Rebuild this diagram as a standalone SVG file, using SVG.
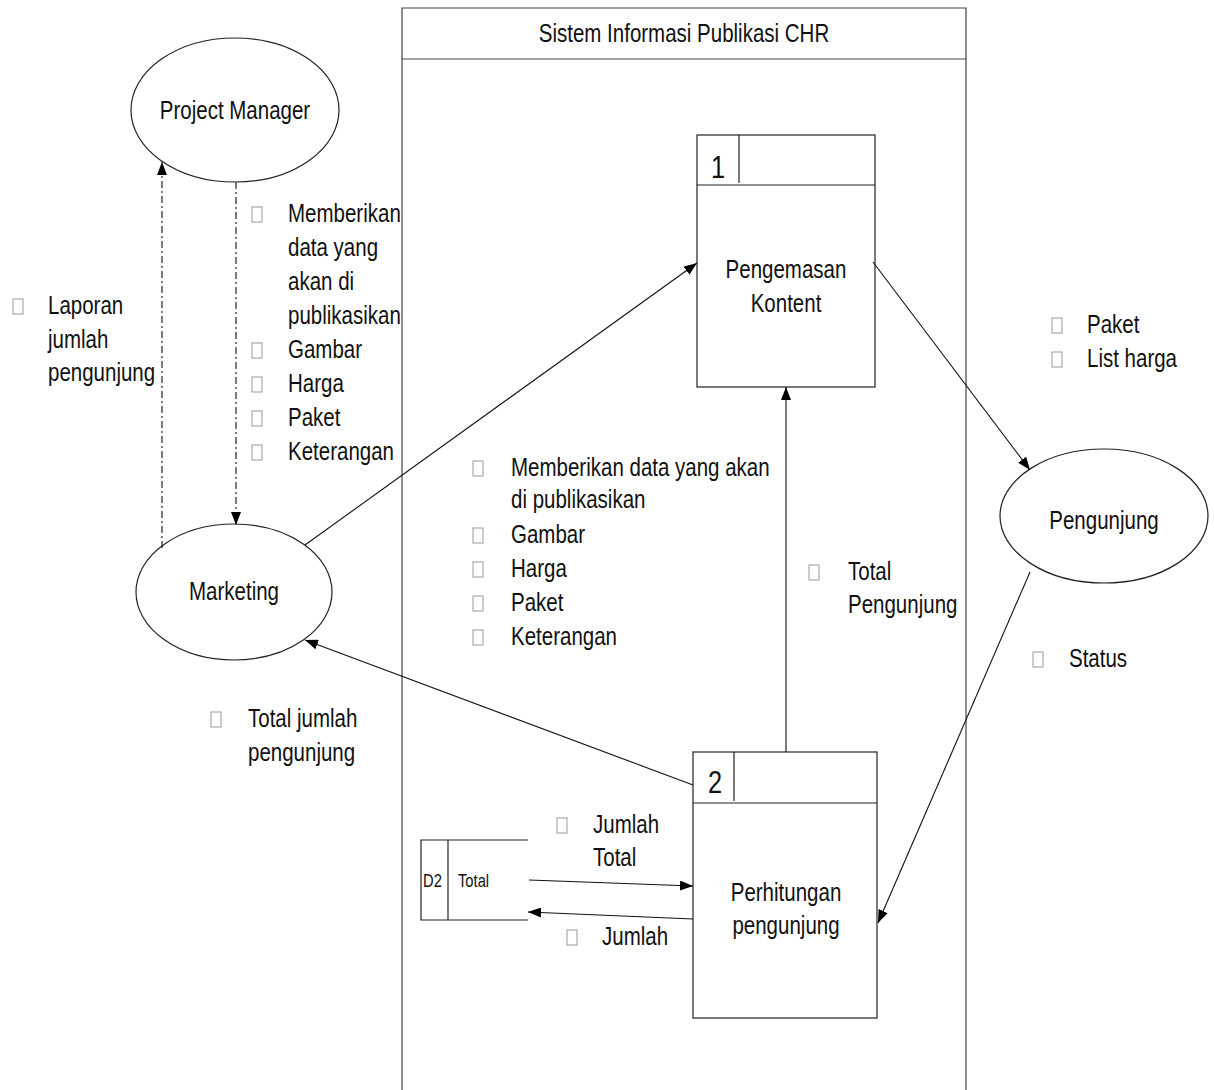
<svg xmlns="http://www.w3.org/2000/svg" width="1214" height="1090" viewBox="0 0 1214 1090">
<defs>
<marker id="arr" markerUnits="userSpaceOnUse" markerWidth="14" markerHeight="10" refX="13" refY="5" orient="auto">
<path d="M0,0 L13,5 L0,10 Z" fill="#000"/>
</marker>
<style>
text{font-family:"Liberation Sans",Arial,sans-serif;font-size:25px;fill:#111}
.c{text-anchor:middle}
.sm{font-size:18px}
.num{font-size:31px}
.shape{fill:#fff;stroke:#222;stroke-width:1.2}
.sys{fill:none;stroke:#444;stroke-width:1.2}
.flow{fill:none;stroke:#111;stroke-width:1.1;marker-end:url(#arr)}
.dash{stroke-dasharray:7 3 2 3}
.bul{fill:none;stroke:#999;stroke-width:1}
</style>
</defs>
<rect width="1214" height="1090" fill="#fff"/>

<g id="system">
<path class="sys" d="M402,1090 V8 H966 V1090 M402,59 H966"/>
<text class="c" transform="translate(684,42) scale(0.82,1)">Sistem Informasi Publikasi CHR</text>
</g>

<g id="project-manager">
<ellipse class="shape" cx="235" cy="110" rx="104" ry="72"/>
<text class="c" transform="translate(235,119) scale(0.82,1)">Project Manager</text>
</g>

<g id="marketing">
<ellipse class="shape" cx="234" cy="592" rx="98" ry="68"/>
<text class="c" transform="translate(234,600) scale(0.82,1)">Marketing</text>
</g>

<g id="pengunjung">
<ellipse class="shape" cx="1104" cy="516" rx="104" ry="67"/>
<text class="c" transform="translate(1104,529) scale(0.82,1)">Pengunjung</text>
</g>

<g id="process-1">
<rect class="shape" x="697" y="135" width="178" height="252"/>
<path class="shape" d="M697,185 H875 M739,135 V183"/>
<text class="num c" transform="translate(718,178) scale(0.82,1)">1</text>
<text class="c" transform="translate(786,278) scale(0.82,1)">Pengemasan</text>
<text class="c" transform="translate(786,312) scale(0.82,1)">Kontent</text>
</g>

<g id="process-2">
<rect class="shape" x="693" y="752" width="184" height="266"/>
<path class="shape" d="M693,803 H877 M734,752 V801"/>
<text class="num c" transform="translate(715,793) scale(0.82,1)">2</text>
<text class="c" transform="translate(786,901) scale(0.82,1)">Perhitungan</text>
<text class="c" transform="translate(786,934) scale(0.82,1)">pengunjung</text>
</g>

<g id="d2-total">
<path class="shape" d="M528,840 H421 V920 H528 M448,840 V920"/>
<text class="sm" transform="translate(423,887) scale(0.82,1)">D2</text>
<text class="sm" transform="translate(458,887) scale(0.82,1)">Total</text>
</g>

<g id="connectors">
<path class="flow dash" d="M162,548 V162"/>
<path class="flow dash" d="M236,182 V525"/>
<path class="flow" d="M305,545 L697,263"/>
<path class="flow" d="M873,262 L1030,470"/>
<path class="flow" d="M1030,572 L878,923"/>
<path class="flow" d="M786,752 V387"/>
<path class="flow" d="M693,785 L305,640"/>
<path class="flow" d="M529,880 L693,886"/>
<path class="flow" d="M693,919 L528,912"/>
</g>

<g id="labels">
<rect class="bul" x="13" y="299" width="10" height="15"/>
<text transform="translate(48,314) scale(0.82,1)">Laporan</text>
<text transform="translate(48,348) scale(0.82,1)">jumlah</text>
<text transform="translate(48,381) scale(0.82,1)">pengunjung</text>

<rect class="bul" x="252" y="207" width="10" height="15"/>
<text transform="translate(288,222) scale(0.82,1)">Memberikan</text>
<text transform="translate(288,256) scale(0.82,1)">data yang</text>
<text transform="translate(288,290) scale(0.82,1)">akan di</text>
<text transform="translate(288,324) scale(0.82,1)">publikasikan</text>
<rect class="bul" x="252" y="343" width="10" height="15"/>
<text transform="translate(288,358) scale(0.82,1)">Gambar</text>
<rect class="bul" x="252" y="377" width="10" height="15"/>
<text transform="translate(288,392) scale(0.82,1)">Harga</text>
<rect class="bul" x="252" y="411" width="10" height="15"/>
<text transform="translate(288,426) scale(0.82,1)">Paket</text>
<rect class="bul" x="252" y="445" width="10" height="15"/>
<text transform="translate(288,460) scale(0.82,1)">Keterangan</text>

<rect class="bul" x="473" y="461" width="10" height="15"/>
<text transform="translate(511,476) scale(0.82,1)">Memberikan data yang akan</text>
<text transform="translate(511,508) scale(0.82,1)">di publikasikan</text>
<rect class="bul" x="473" y="528" width="10" height="15"/>
<text transform="translate(511,543) scale(0.82,1)">Gambar</text>
<rect class="bul" x="473" y="562" width="10" height="15"/>
<text transform="translate(511,577) scale(0.82,1)">Harga</text>
<rect class="bul" x="473" y="596" width="10" height="15"/>
<text transform="translate(511,611) scale(0.82,1)">Paket</text>
<rect class="bul" x="473" y="630" width="10" height="15"/>
<text transform="translate(511,645) scale(0.82,1)">Keterangan</text>

<rect class="bul" x="809" y="565" width="10" height="15"/>
<text transform="translate(848,580) scale(0.82,1)">Total</text>
<text transform="translate(848,613) scale(0.82,1)">Pengunjung</text>

<rect class="bul" x="1052" y="318" width="10" height="15"/>
<text transform="translate(1087,333) scale(0.82,1)">Paket</text>
<rect class="bul" x="1052" y="352" width="10" height="15"/>
<text transform="translate(1087,367) scale(0.82,1)">List harga</text>

<rect class="bul" x="1033" y="652" width="10" height="15"/>
<text transform="translate(1069,667) scale(0.82,1)">Status</text>

<rect class="bul" x="211" y="712" width="10" height="15"/>
<text transform="translate(248,727) scale(0.82,1)">Total jumlah</text>
<text transform="translate(248,761) scale(0.82,1)">pengunjung</text>

<rect class="bul" x="557" y="818" width="10" height="15"/>
<text transform="translate(593,833) scale(0.82,1)">Jumlah</text>
<text transform="translate(593,866) scale(0.82,1)">Total</text>

<rect class="bul" x="567" y="930" width="10" height="15"/>
<text transform="translate(602,945) scale(0.82,1)">Jumlah</text>
</g>
</svg>
